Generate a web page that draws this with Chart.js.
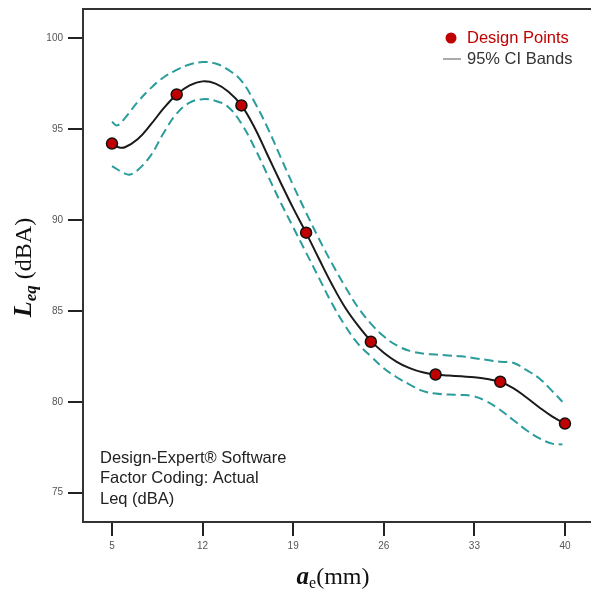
<!DOCTYPE html>
<html><head><meta charset="utf-8">
<script src="https://cdn.jsdelivr.net/npm/chart.js@4/dist/chart.umd.min.js"></script>
<style>html,body{margin:0;padding:0;background:#fff;overflow:hidden}#wrap{width:591px;height:594px;position:relative}</style>
</head><body><div id="wrap"><canvas id="c" width="591" height="594"></canvas></div>
<script>
// ---- data ----
const designX = [5, 10, 15, 20, 25, 30, 35, 40];
const designY = [94.2, 96.9, 96.3, 89.3, 83.3, 81.5, 81.1, 78.8];

const fitX = [5, 5.5, 6, 7, 8, 9, 10, 11, 12, 13, 14, 15, 16, 17, 18, 19, 20, 21, 22, 23, 24, 25, 26, 27, 28, 29, 30, 31, 32, 33, 34, 35, 36, 37, 38, 39, 40];
const fitY = [94.2, 94.0, 94.0, 94.45, 95.25, 96.15, 96.9, 97.4, 97.62, 97.5, 97.05, 96.3, 95.1, 93.6, 92.1, 90.65, 89.29, 87.85, 86.45, 85.2, 84.2, 83.35, 82.7, 82.2, 81.85, 81.62, 81.5, 81.45, 81.4, 81.35, 81.25, 81.1, 80.75, 80.25, 79.7, 79.2, 78.8];

const upperX = [5, 5.4, 6, 7, 8, 9, 10, 11, 12, 13, 14, 15, 16, 17, 18, 19, 20, 21, 22, 23, 24, 25, 26, 27, 28, 29, 30, 31, 32, 33, 34, 35, 36, 37, 38, 39, 39.8];
const upperY = [95.4, 95.2, 95.6, 96.5, 97.25, 97.85, 98.25, 98.55, 98.68, 98.6, 98.25, 97.65, 96.5, 95.1, 93.5, 91.9, 90.4, 88.95, 87.6, 86.35, 85.2, 84.3, 83.6, 83.1, 82.8, 82.65, 82.6, 82.55, 82.5, 82.4, 82.3, 82.2, 82.15, 81.75, 81.3, 80.6, 80.0];

const lowerX = [5, 6, 6.4, 7, 8, 9, 10, 11, 12, 13, 14, 15, 16, 17, 18, 19, 20, 21, 22, 23, 24, 25, 26, 27, 28, 29, 30, 31, 32, 33, 34, 35, 36, 37, 38, 39, 39.8];
const lowerY = [92.96, 92.55, 92.5, 92.75, 93.55, 94.8, 95.85, 96.45, 96.64, 96.55, 96.2, 95.3, 94.0, 92.5, 91.0, 89.6, 88.2, 86.8, 85.4, 84.2, 83.2, 82.5, 81.85, 81.35, 80.95, 80.6, 80.45, 80.4, 80.38, 80.3, 80.0, 79.55, 79.0, 78.45, 78.0, 77.7, 77.65];

const xTicks = [5, 12, 19, 26, 33, 40];
const yTicks = [75, 80, 85, 90, 95, 100];

const legendLabels = ['Design Points', '95% CI Bands'];
const noteLines = ['Design-Expert\u00AE Software', 'Factor Coding: Actual', 'Leq (dBA)'];

// ---- helpers ----
const pts = (xs, ys) => xs.map((x, i) => ({x: x, y: ys[i]}));
const TEAL = '#2a9c9c';
const RED = '#c00000';

const frame = {
  id: 'frame',
  afterDatasetsDraw(chart) {
    const {ctx, chartArea: a} = chart;
    ctx.save();
    ctx.strokeStyle = '#333';
    ctx.lineWidth = 2;
    ctx.beginPath();
    ctx.moveTo(a.left - 1, a.top);
    ctx.lineTo(chart.width, a.top);
    ctx.moveTo(a.right - 1, a.bottom);
    ctx.lineTo(chart.width, a.bottom);
    ctx.stroke();
    ctx.restore();
  }
};

const annotations = {
  id: 'annotations',
  afterDraw(chart) {
    const {ctx, chartArea: a} = chart;
    ctx.save();
    // legend
    ctx.textBaseline = 'middle';
    ctx.textAlign = 'left';
    ctx.font = '16.5px "Liberation Sans", Arial, sans-serif';
    ctx.fillStyle = RED;
    ctx.beginPath();
    ctx.arc(a.left + 368, a.top + 29, 5.5, 0, Math.PI * 2);
    ctx.fill();
    ctx.fillText(legendLabels[0], a.left + 384, a.top + 29);
    ctx.strokeStyle = '#aaaaaa';
    ctx.lineWidth = 2;
    ctx.beginPath();
    ctx.moveTo(a.left + 360, a.top + 50);
    ctx.lineTo(a.left + 378, a.top + 50);
    ctx.stroke();
    ctx.fillStyle = '#333';
    ctx.fillText(legendLabels[1], a.left + 384, a.top + 50);

    // note text bottom-left
    ctx.fillStyle = '#222';
    noteLines.forEach((t, i) => ctx.fillText(t, a.left + 17, a.bottom - 64 + i * 20.5));

    // y-axis title: L_eq (dBA)
    const serif = '"Liberation Serif", "Times New Roman", serif';
    ctx.save();
    ctx.translate(31, (a.top + a.bottom) / 2 + 2);
    ctx.rotate(-Math.PI / 2);
    ctx.textBaseline = 'alphabetic';
    ctx.fillStyle = '#111';
    const partsY = [
      {t: 'L', f: 'italic bold 26px ' + serif, dy: 0},
      {t: 'eq', f: 'italic bold 17px ' + serif, dy: 5},
      {t: ' (dBA)', f: '24px ' + serif, dy: 0}
    ];
    let w = 0;
    partsY.forEach(p => { ctx.font = p.f; p.w = ctx.measureText(p.t).width; w += p.w; });
    let x = -w / 2;
    partsY.forEach(p => { ctx.font = p.f; ctx.fillText(p.t, x, p.dy); x += p.w; });
    ctx.restore();

    // x-axis title: a_e(mm)
    ctx.save();
    ctx.textBaseline = 'alphabetic';
    ctx.fillStyle = '#111';
    const partsX = [
      {t: 'a', f: 'italic bold 25px ' + serif, dy: 0},
      {t: 'e', f: '16px ' + serif, dy: 4},
      {t: '(mm)', f: '24px ' + serif, dy: 0}
    ];
    w = 0;
    partsX.forEach(p => { ctx.font = p.f; p.w = ctx.measureText(p.t).width; w += p.w; });
    x = 333 - w / 2;
    partsX.forEach(p => { ctx.font = p.f; ctx.fillText(p.t, x, 584 + p.dy); x += p.w; });
    ctx.restore();

    ctx.restore();
  }
};

new Chart(document.getElementById('c'), {
  type: 'line',
  data: {
    datasets: [
      {
        label: legendLabels[0], data: pts(designX, designY), showLine: false,
        pointRadius: 5.5, pointBackgroundColor: RED, pointBorderColor: '#111', pointBorderWidth: 1.5, order: 0
      },
      {
        label: 'fit', data: pts(fitX, fitY), borderColor: '#1a1a1a', borderWidth: 2,
        pointRadius: 0, tension: 0.4, fill: false, order: 1
      },
      {
        label: legendLabels[1], data: pts(upperX, upperY), borderColor: TEAL, borderWidth: 2,
        borderDash: [9, 5], pointRadius: 0, tension: 0.4, fill: false, order: 2
      },
      {
        label: 'lower', data: pts(lowerX, lowerY), borderColor: TEAL, borderWidth: 2,
        borderDash: [9, 5], pointRadius: 0, tension: 0.4, fill: false, order: 2
      }
    ]
  },
  options: {
    responsive: false, animation: false, devicePixelRatio: 1,
    layout: {padding: {left: 0, right: 0, top: 9, bottom: 0}},
    plugins: {legend: {display: false}, tooltip: {enabled: false}, title: {display: false}},
    scales: {
      x: {
        type: 'linear', min: 2.76, max: 41.47,
        afterBuildTicks: s => { s.ticks = xTicks.map(v => ({value: v})); },
        afterFit: s => { s.height = 72; s.paddingLeft = 0; s.paddingRight = 0; },
        grid: {drawOnChartArea: false, drawTicks: true, tickLength: 14, color: '#222', lineWidth: 2},
        border: {display: true, color: '#333', width: 2},
        ticks: {font: {size: 10, family: '"Liberation Sans", Arial, sans-serif'}, color: '#555', padding: 4, maxRotation: 0}
      },
      y: {
        type: 'linear', min: 73.39, max: 101.6,
        afterBuildTicks: s => { s.ticks = yTicks.map(v => ({value: v})); },
        afterFit: s => { s.width = 83; s.paddingTop = 0; s.paddingBottom = 0; },
        grid: {drawOnChartArea: false, drawTicks: true, tickLength: 15, color: '#222', lineWidth: 2},
        border: {display: true, color: '#333', width: 2},
        ticks: {font: {size: 10, family: '"Liberation Sans", Arial, sans-serif'}, color: '#555', padding: 5}
      }
    }
  },
  plugins: [frame, annotations]
});
</script>
</body></html>
